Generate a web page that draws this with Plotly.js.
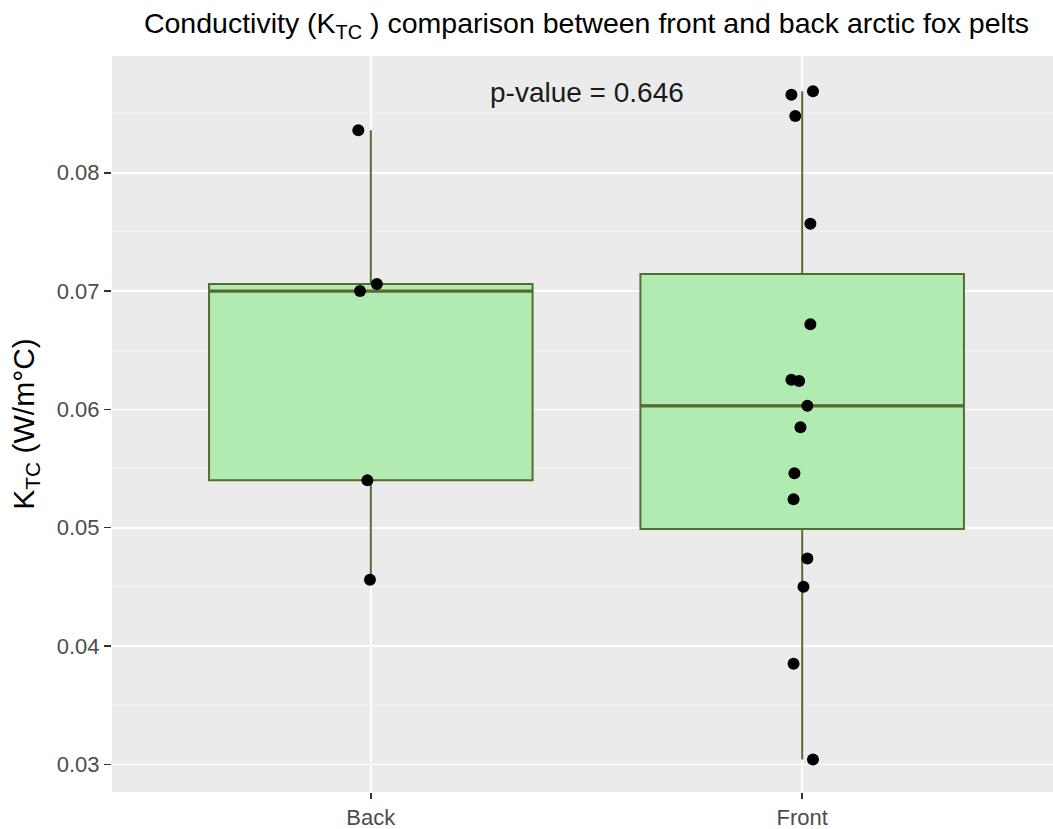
<!DOCTYPE html>
<html>
<head>
<meta charset="utf-8">
<script src="https://cdn.plot.ly/plotly-3.0.1.min.js"></script>
<style>
  html, body { margin: 0; padding: 0; overflow: hidden; background: #ffffff; }
  #chart { width: 1070px; height: 829px; }
</style>
</head>
<body>
<div id="chart"></div>
<script>
// Thermal conductivity measurements (W/m°C) per pelt region
const categories = ['Back', 'Front'];
const backValues = [0.0836, 0.0700, 0.0706, 0.0540, 0.0456];
const frontValues = [0.0866, 0.0869, 0.0848, 0.0757, 0.0672, 0.0625, 0.0624, 0.0603,
                     0.0585, 0.0546, 0.0524, 0.0474, 0.0450, 0.0385, 0.0304];
// horizontal jitter of each observation, in category units
const backJitter = [-0.029, -0.025, 0.014, -0.008, -0.002];
const frontJitter = [-0.025, 0.025, -0.016, 0.019, 0.019, -0.025, -0.007, 0.012,
                     -0.004, -0.018, -0.020, 0.012, 0.003, -0.020, 0.025];
const pValue = 0.646;
const yTicks = [0.03, 0.04, 0.05, 0.06, 0.07, 0.08];

// R type-7 quantile
function quantile(arr, p) {
  const s = arr.slice().sort((a, b) => a - b);
  const h = (s.length - 1) * p;
  const lo = Math.floor(h), hi = Math.ceil(h);
  return s[lo] + (h - lo) * (s[hi] - s[lo]);
}
function boxStats(arr) {
  const q1 = quantile(arr, 0.25), med = quantile(arr, 0.5), q3 = quantile(arr, 0.75);
  const iqr = q3 - q1;
  const inside = arr.filter(v => v >= q1 - 1.5 * iqr && v <= q3 + 1.5 * iqr);
  return { q1, med, q3, lo: Math.min(...inside), hi: Math.max(...inside) };
}

const groups = [backValues, frontValues];
const jitters = [backJitter, frontJitter];
const stats = groups.map(boxStats);
const boxWidth = 0.75;
const olive = '#556B2F';

const boxTrace = {
  type: 'box',
  x: [0, 1],
  q1: stats.map(s => s.q1),
  median: stats.map(s => s.med),
  q3: stats.map(s => s.q3),
  lowerfence: stats.map(s => s.lo),
  upperfence: stats.map(s => s.hi),
  width: boxWidth,
  whiskerwidth: 0,
  boxpoints: false,
  fillcolor: '#B2EBB2',
  line: { color: olive, width: 2 },
  hoverinfo: 'skip',
  showlegend: false
};

// thicker median bars on top of the boxes
const medX = [], medY = [];
stats.forEach((s, i) => {
  medX.push(i - boxWidth / 2, i + boxWidth / 2, null);
  medY.push(s.med, s.med, null);
});
const medianTrace = {
  type: 'scatter', mode: 'lines', x: medX, y: medY,
  line: { color: olive, width: 3.2 }, hoverinfo: 'skip', showlegend: false
};

const pointsX = [], pointsY = [];
groups.forEach((vals, i) => {
  vals.forEach((v, j) => { pointsX.push(i + jitters[i][j]); pointsY.push(v); });
});
const pointTrace = {
  type: 'scatter', mode: 'markers', x: pointsX, y: pointsY,
  marker: { color: '#000000', size: 12 }, showlegend: false
};

const font = 'Liberation Sans, Arial, Helvetica, sans-serif';

const layout = {
  width: 1070,
  height: 829,
  margin: { l: 112, r: 9, t: 56, b: 37 },
  paper_bgcolor: '#ffffff',
  plot_bgcolor: '#EBEBEB',
  font: { family: font },
  title: {
    text: 'Conductivity (K<sub>TC</sub> ) comparison between front and back arctic fox pelts',
    font: { size: 28.5, color: '#000000', family: font },
    x: 0.5, xref: 'paper', xanchor: 'center',
    y: 1 - 23 / 829, yref: 'container', yanchor: 'middle'
  },
  xaxis: {
    range: [-0.6, 1.6],
    tickmode: 'array',
    tickvals: [0, 1],
    ticktext: categories,
    showgrid: true, gridcolor: '#ffffff', gridwidth: 1.6,
    zeroline: false, showline: false,
    ticks: 'outside', ticklen: 6, tickwidth: 1.5, tickcolor: '#333333',
    tickfont: { size: 22, color: '#4D4D4D', family: font }
  },
  yaxis: {
    range: [0.02766, 0.08987],
    tickmode: 'array',
    tickvals: yTicks,
    ticktext: yTicks.map(v => v.toFixed(2)),
    showgrid: true, gridcolor: '#ffffff', gridwidth: 1.6,
    minor: { dtick: 0.005, tick0: 0.03, showgrid: true, gridcolor: '#F5F5F5', gridwidth: 0.8, ticks: '' },
    zeroline: false, showline: false,
    ticks: 'outside', ticklen: 7, tickwidth: 1.5, tickcolor: '#333333',
    tickfont: { size: 22, color: '#4D4D4D', family: font },
    title: {
      text: 'K<sub>TC</sub> (W/m°C)',
      font: { size: 30, color: '#000000', family: font },
      standoff: 13
    }
  },
  annotations: [{
    x: 0.5, y: 0.0868, xref: 'x', yref: 'y',
    text: 'p-value = ' + pValue.toFixed(3),
    showarrow: false,
    font: { size: 28, color: '#1a1a1a', family: font },
    xanchor: 'center', yanchor: 'middle'
  }]
};

Plotly.newPlot('chart', [boxTrace, medianTrace, pointTrace], layout,
  { displayModeBar: false, staticPlot: true });
</script>
</body>
</html>
